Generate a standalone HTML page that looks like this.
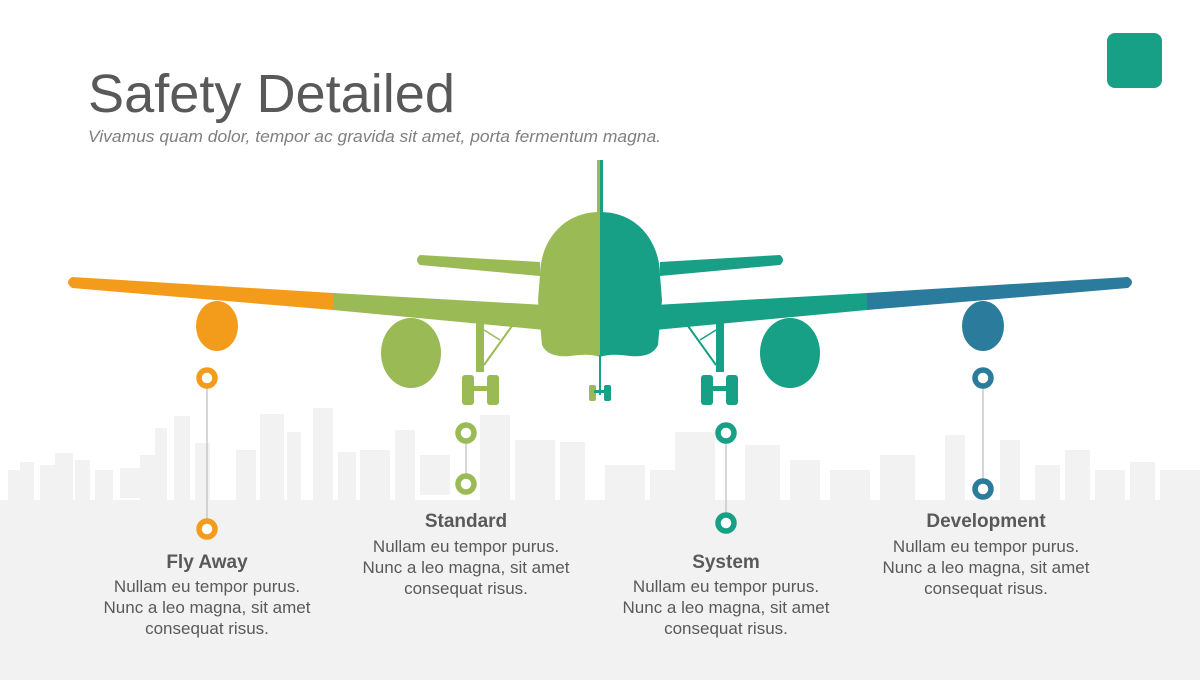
<!DOCTYPE html>
<html><head><meta charset="utf-8"><style>
body{margin:0;width:1200px;height:680px;overflow:hidden;background:#fff;font-family:"Liberation Sans",sans-serif;}
</style></head><body>
<svg width="1200" height="680" viewBox="0 0 1200 680" xmlns="http://www.w3.org/2000/svg">
<g fill="#f2f2f2">
<rect x="0" y="500" width="1200" height="180"/>
<rect x="8" y="470" width="20" height="40"/><rect x="20" y="462" width="14" height="40"/>
<rect x="40" y="465" width="15" height="40"/><rect x="55" y="453" width="18" height="50"/>
<rect x="75" y="460" width="15" height="40"/><rect x="95" y="470" width="18" height="30"/>
<rect x="120" y="468" width="20" height="30"/><rect x="140" y="455" width="15" height="50"/>
<rect x="155" y="428" width="12" height="80"/><rect x="174" y="416" width="16" height="90"/>
<rect x="195" y="443" width="15" height="60"/><rect x="236" y="450" width="20" height="50"/>
<rect x="260" y="414" width="24" height="90"/><rect x="287" y="432" width="14" height="70"/>
<rect x="313" y="408" width="20" height="100"/><rect x="338" y="452" width="18" height="50"/>
<rect x="360" y="450" width="30" height="50"/><rect x="395" y="430" width="20" height="70"/>
<rect x="420" y="455" width="30" height="40"/><rect x="480" y="415" width="30" height="90"/>
<rect x="515" y="440" width="40" height="60"/><rect x="560" y="442" width="25" height="60"/>
<rect x="605" y="465" width="40" height="40"/><rect x="650" y="470" width="25" height="40"/>
<rect x="675" y="432" width="40" height="70"/><rect x="745" y="445" width="35" height="60"/>
<rect x="790" y="460" width="30" height="40"/><rect x="830" y="470" width="40" height="40"/>
<rect x="880" y="455" width="35" height="50"/><rect x="945" y="435" width="20" height="70"/>
<rect x="1000" y="440" width="20" height="60"/><rect x="1035" y="465" width="25" height="40"/>
<rect x="1065" y="450" width="25" height="50"/><rect x="1095" y="470" width="30" height="40"/>
<rect x="1130" y="462" width="25" height="40"/><rect x="1160" y="470" width="40" height="40"/>
</g>
<!-- title -->
<text x="88" y="112" font-size="54" fill="#595959" textLength="367" lengthAdjust="spacingAndGlyphs">Safety Detailed</text>
<text x="88" y="142" font-size="16.5" font-style="italic" fill="#7f7f7f" textLength="573" lengthAdjust="spacingAndGlyphs">Vivamus quam dolor, tempor ac gravida sit amet, porta fermentum magna.</text>
<rect x="1107" y="33" width="55" height="55" rx="8" fill="#17a085"/>
<!-- wings -->
<path d="M333,293 L72,277 Q64,282 72,288 L333,310 Z" fill="#f39c1c"/>
<path d="M333,293 L545,305 L545,330 L333,310 Z" fill="#9aba55"/>
<path d="M867,293 L1128,277 Q1136,282 1128,288 L867,310 Z" fill="#2b7b9c"/>
<path d="M867,293 L655,305 L655,330 L867,310 Z" fill="#17a085"/>
<!-- stabilizers -->
<path d="M540,262 L420,255 Q414,260 420,265 L540,276 Z" fill="#9aba55"/>
<path d="M660,262 L780,255 Q786,260 780,265 L660,276 Z" fill="#17a085"/>
<!-- fin -->
<rect x="597" y="160" width="3" height="55" fill="#9aba55"/><rect x="600" y="160" width="3" height="55" fill="#17a085"/>
<!-- fuselage -->
<path d="M600,212 C560,212 540,245 540,275 L538,300 L542,345 Q548,358 570,356 Q590,353 600,357 Z" fill="#9aba55"/>
<path d="M600,212 C640,212 660,245 660,275 L662,300 L658,345 Q652,358 630,356 Q610,353 600,357 Z" fill="#17a085"/>
<!-- engines -->
<ellipse cx="217" cy="326" rx="21" ry="25" fill="#f39c1c"/>
<ellipse cx="411" cy="353" rx="30" ry="35" fill="#9aba55"/>
<ellipse cx="790" cy="353" rx="30" ry="35" fill="#17a085"/>
<ellipse cx="983" cy="326" rx="21" ry="25" fill="#2b7b9c"/>
<!-- gears -->
<g fill="#9aba55" stroke="#9aba55">
<rect x="476" y="322" width="8" height="50" stroke="none"/>
<line x1="484" y1="365" x2="512" y2="326" stroke-width="2"/><line x1="484" y1="330" x2="500" y2="340" stroke-width="1.5"/>
<rect x="462" y="375" width="12" height="30" rx="3" stroke="none"/><rect x="487" y="375" width="12" height="30" rx="3" stroke="none"/>
<rect x="470" y="386" width="20" height="5" stroke="none"/>
<rect x="589" y="385" width="7" height="16" rx="2" stroke="none"/>
</g>
<g fill="#17a085" stroke="#17a085">
<rect x="716" y="322" width="8" height="50" stroke="none"/>
<line x1="716" y1="365" x2="688" y2="326" stroke-width="2"/><line x1="716" y1="330" x2="700" y2="340" stroke-width="1.5"/>
<rect x="701" y="375" width="12" height="30" rx="3" stroke="none"/><rect x="726" y="375" width="12" height="30" rx="3" stroke="none"/>
<rect x="710" y="386" width="20" height="5" stroke="none"/>
<rect x="604" y="385" width="7" height="16" rx="2" stroke="none"/>
</g>
<rect x="599" y="355" width="2" height="40" fill="#17a085"/><rect x="594" y="390" width="12" height="3" fill="#17a085"/>
<!-- connectors -->
<g stroke="#c8c8c8" stroke-width="1.5">
<line x1="207" y1="378" x2="207" y2="529"/><line x1="466" y1="433" x2="466" y2="484"/>
<line x1="726" y1="433" x2="726" y2="523"/><line x1="983" y1="378" x2="983" y2="489"/>
</g>
<g fill="#fff" stroke-width="5.5">
<circle cx="207" cy="378" r="8" stroke="#f39c1c"/><circle cx="207" cy="529" r="8" stroke="#f39c1c"/>
<circle cx="466" cy="433" r="8" stroke="#9aba55"/><circle cx="466" cy="484" r="8" stroke="#9aba55"/>
<circle cx="726" cy="433" r="8" stroke="#17a085"/><circle cx="726" cy="523" r="8" stroke="#17a085"/>
<circle cx="983" cy="378" r="8" stroke="#2b7b9c"/><circle cx="983" cy="489" r="8" stroke="#2b7b9c"/>
</g>
<!-- labels -->
<g text-anchor="middle" fill="#595959" font-size="17">
<text x="207" y="568" font-size="19" font-weight="bold">Fly Away</text>
<text x="207" y="592">Nullam eu tempor purus.</text><text x="207" y="613">Nunc a leo magna, sit amet</text><text x="207" y="634">consequat risus.</text>
<text x="466" y="527" font-size="19" font-weight="bold">Standard</text>
<text x="466" y="552">Nullam eu tempor purus.</text><text x="466" y="573">Nunc a leo magna, sit amet</text><text x="466" y="594">consequat risus.</text>
<text x="726" y="568" font-size="19" font-weight="bold">System</text>
<text x="726" y="592">Nullam eu tempor purus.</text><text x="726" y="613">Nunc a leo magna, sit amet</text><text x="726" y="634">consequat risus.</text>
<text x="986" y="527" font-size="19" font-weight="bold">Development</text>
<text x="986" y="552">Nullam eu tempor purus.</text><text x="986" y="573">Nunc a leo magna, sit amet</text><text x="986" y="594">consequat risus.</text>
</g>
</svg>
</body></html>
